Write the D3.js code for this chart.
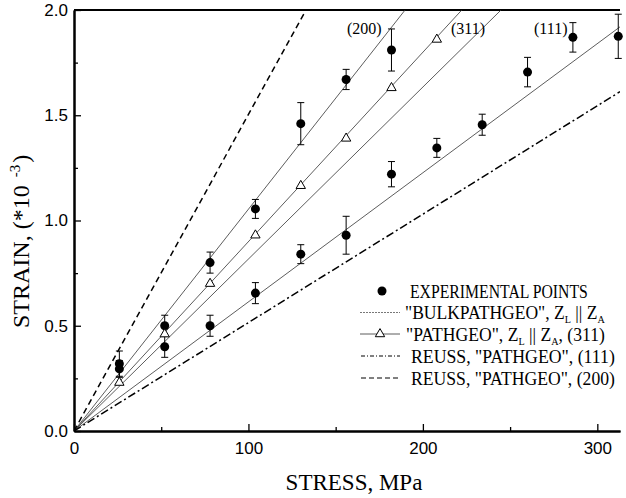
<!DOCTYPE html>
<html>
<head>
<meta charset="utf-8">
<script src="https://cdn.jsdelivr.net/npm/d3@7"></script>
<style>
  body { margin: 0; background: #fff; }
  text { fill: #000; }
</style>
</head>
<body>
<div id="chart"></div>
<script>
// experimental points, stress in MPa, strain in 10^-3
const stress = [26, 52, 78, 104, 130, 156, 182, 208, 234, 260, 286, 312];
const strain200 = [0.32, 0.50, 0.80, 1.055, 1.46, 1.67, 1.81];
const err200 = [0.06, 0.05, 0.05, 0.045, 0.10, 0.048, 0.10];
const strain111 = [0.295, 0.40, 0.50, 0.655, 0.84, 0.93, 1.22, 1.345, 1.455, 1.705, 1.87, 1.875];
const err111 = [0.04, 0.05, 0.05, 0.05, 0.045, 0.09, 0.06, 0.045, 0.05, 0.07, 0.07, 0.105];

// "PATHGEO" (311) markers
const stress311 = [26, 52, 78, 104, 130, 156, 182, 208];
const strain311 = [0.23, 0.46, 0.70, 0.93, 1.165, 1.39, 1.63, 1.86];

// model lines (start / end points)
const bulk200 = [[0, 0], [189.8, 2.0]];
const bulk311 = [[0, 0], [244.8, 2.0]];
const bulk111 = [[0, 0], [313, 1.92]];
const path311 = [[0, 0], [222.3, 2.0]];
const reuss111 = [[0, 0], [313, 1.612]];
const reuss200 = [[0, 0], [133, 2.0]];

const xTicks = [0, 100, 200, 300];
const xMinor = [50, 150, 250];
const yTicks = [0, 0.5, 1.0, 1.5, 2.0];
const yMinor = [0.25, 0.75, 1.25, 1.75];

const width = 626, height = 498;
const mLeft = 74, mRight = 620, mTop = 10, mBottom = 431;

const svg = d3.select("#chart").append("svg")
  .attr("width", width)
  .attr("height", height);

const x = d3.scaleLinear().domain([0, 313]).range([mLeft, mRight]);
const y = d3.scaleLinear().domain([0, 2]).range([mBottom, mTop]);

svg.append("clipPath").attr("id", "plot")
  .append("rect")
  .attr("x", mLeft).attr("y", mTop)
  .attr("width", mRight - mLeft).attr("height", mBottom - mTop);

// axes
svg.append("g")
  .attr("transform", "translate(0," + mBottom + ")")
  .call(d3.axisBottom(x).tickValues(xTicks).tickSizeInner(-7).tickSizeOuter(0).tickPadding(11));
svg.append("g")
  .attr("transform", "translate(0," + mBottom + ")")
  .call(d3.axisBottom(x).tickValues(xMinor).tickSizeInner(-4).tickSizeOuter(0).tickFormat(""));

svg.append("g")
  .attr("transform", "translate(" + mLeft + ",0)")
  .call(d3.axisLeft(y).tickValues(yTicks).tickSizeInner(-7).tickSizeOuter(0).tickPadding(6).tickFormat(d3.format(".1f")));
svg.append("g")
  .attr("transform", "translate(" + mLeft + ",0)")
  .call(d3.axisLeft(y).tickValues(yMinor).tickSizeInner(-4).tickSizeOuter(0).tickFormat(""));

svg.selectAll(".domain").attr("stroke-width", 2);
svg.selectAll(".tick line").attr("stroke-width", 1.3);
svg.selectAll(".tick text")
  .attr("font-family", "Liberation Sans, Arial, sans-serif")
  .attr("font-size", 17);

// top frame
svg.append("line")
  .attr("x1", mLeft).attr("x2", mRight)
  .attr("y1", mTop).attr("y2", mTop)
  .attr("stroke", "#000").attr("stroke-width", 2);

// lines
const line = d3.line().x(d => x(d[0])).y(d => y(d[1]));
const plot = svg.append("g").attr("clip-path", "url(#plot)");

[bulk200, bulk311, bulk111, path311].forEach(d => {
  plot.append("path").attr("d", line(d))
    .attr("fill", "none").attr("stroke", "#333").attr("stroke-width", 0.8);
});
plot.append("path").attr("d", line(reuss111))
  .attr("fill", "none").attr("stroke", "#000").attr("stroke-width", 1.5)
  .attr("stroke-dasharray", "8,3,2,3");
plot.append("path").attr("d", line(reuss200))
  .attr("fill", "none").attr("stroke", "#000").attr("stroke-width", 1.5)
  .attr("stroke-dasharray", "6,4");

// error bars + points
function drawPoints(sx, sy, se) {
  const pts = sy.map((v, i) => ({ s: sx[i], v: v, e: se[i] }));
  const g = svg.append("g");
  const bars = g.selectAll(".eb").data(pts).enter().append("g");
  bars.append("line")
    .attr("x1", d => x(d.s)).attr("x2", d => x(d.s))
    .attr("y1", d => y(d.v - d.e)).attr("y2", d => y(d.v + d.e))
    .attr("stroke", "#000").attr("stroke-width", 1);
  [-1, 1].forEach(k => {
    bars.append("line")
      .attr("x1", d => x(d.s) - 3.5).attr("x2", d => x(d.s) + 3.5)
      .attr("y1", d => y(d.v + k * d.e)).attr("y2", d => y(d.v + k * d.e))
      .attr("stroke", "#000").attr("stroke-width", 1);
  });
  g.selectAll(".pt").data(pts).enter().append("circle")
    .attr("cx", d => x(d.s)).attr("cy", d => y(d.v)).attr("r", 4.5)
    .attr("fill", "#000");
}
drawPoints(stress, strain200, err200);
drawPoints(stress, strain111, err111);

const tri = d3.symbol().type(d3.symbolTriangle).size(38);
svg.selectAll(".tri").data(stress311).enter().append("path")
  .attr("d", tri)
  .attr("transform", (d, i) => "translate(" + x(d) + "," + y(strain311[i]) + ")")
  .attr("fill", "#fff").attr("stroke", "#000").attr("stroke-width", 1);

// line labels
const serif = "Liberation Serif, Times New Roman, serif";
[["(200)", 347], ["(311)", 451], ["(111)", 534]].forEach(l => {
  svg.append("text").attr("x", l[1]).attr("y", 34)
    .attr("font-family", serif).attr("font-size", 16).text(l[0]);
});

// axis titles
svg.append("text").attr("x", 354).attr("y", 490)
  .attr("text-anchor", "middle")
  .attr("font-family", serif).attr("font-size", 23)
  .text("STRESS, MPa");

const yt = svg.append("text")
  .attr("transform", "translate(29,328) rotate(-90)")
  .attr("font-family", serif).attr("font-size", 24);
yt.append("tspan").text("STRAIN, (*10");
yt.append("tspan").attr("dx", 8).attr("dy", -9).attr("font-size", 15).text("-3");
yt.append("tspan").attr("dy", 9).attr("dx", 2).text(")");

// legend
const legRows = [
  { y: 291, tx: 410, w: 178 },
  { y: 312.5, tx: 405, w: 200 },
  { y: 334, tx: 406, w: 199 },
  { y: 356, tx: 411, w: 204 },
  { y: 378, tx: 411, w: 204 }
];
const leg = svg.append("g");
leg.append("circle").attr("cx", 382).attr("cy", legRows[0].y).attr("r", 4.5).attr("fill", "#000");
leg.append("line").attr("x1", 360).attr("x2", 400).attr("y1", legRows[1].y).attr("y2", legRows[1].y)
  .attr("stroke", "#555").attr("stroke-width", 0.8).attr("stroke-dasharray", "2,1");
leg.append("line").attr("x1", 360).attr("x2", 400).attr("y1", legRows[2].y).attr("y2", legRows[2].y)
  .attr("stroke", "#333").attr("stroke-width", 0.8);
leg.append("path").attr("d", tri)
  .attr("transform", "translate(380," + legRows[2].y + ")")
  .attr("fill", "#fff").attr("stroke", "#000").attr("stroke-width", 1);
leg.append("line").attr("x1", 361).attr("x2", 400).attr("y1", legRows[3].y).attr("y2", legRows[3].y)
  .attr("stroke", "#000").attr("stroke-width", 1).attr("stroke-dasharray", "4,2,1,2");
leg.append("line").attr("x1", 361).attr("x2", 400).attr("y1", legRows[4].y).attr("y2", legRows[4].y)
  .attr("stroke", "#000").attr("stroke-width", 1).attr("stroke-dasharray", "5,3");

function legText(row, parts) {
  const t = leg.append("text")
    .attr("font-family", serif).attr("font-size", 19);
  parts.forEach(p => {
    const s = t.append("tspan").text(p[0]);
    if (p[1] === "sub") s.attr("font-size", 11).attr("dy", 4);
    if (p[1] === "up") s.attr("dy", -4);
  });
  const w = t.node().getComputedTextLength();
  t.attr("transform", "translate(" + row.tx + "," + (row.y + 6.5) + ") scale(" + (row.w / w) + ",1)");
}
legText(legRows[0], [["EXPERIMENTAL POINTS"]]);
legText(legRows[1], [["\"BULKPATHGEO\", Z"], ["L", "sub"], [" || Z", "up"], ["A", "sub"]]);
legText(legRows[2], [["\"PATHGEO\", Z"], ["L", "sub"], [" || Z", "up"], ["A", "sub"], [", (311)", "up"]]);
legText(legRows[3], [["REUSS, \"PATHGEO\", (111)"]]);
legText(legRows[4], [["REUSS, \"PATHGEO\", (200)"]]);
</script>
</body>
</html>
